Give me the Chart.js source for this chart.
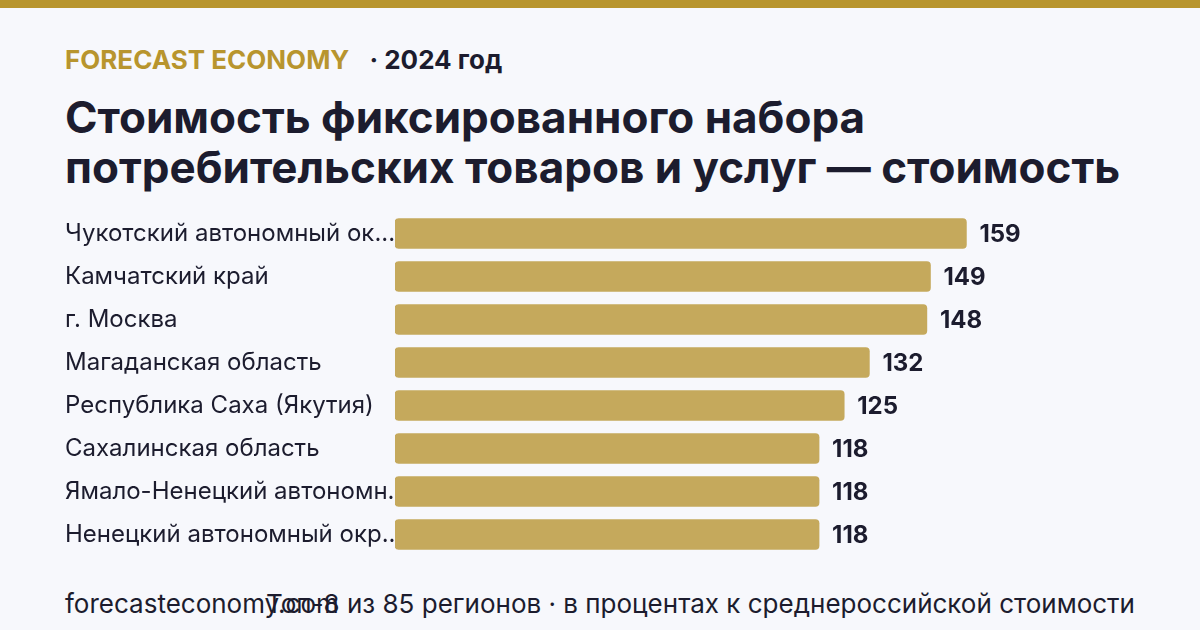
<!DOCTYPE html>
<html lang="ru">
<head>
<meta charset="utf-8">
<script src="https://cdn.jsdelivr.net/npm/chart.js@4"></script>
<style>
  html, body { margin: 0; padding: 0; }
  body {
    width: 1200px; height: 630px; overflow: hidden; position: relative;
    background: #f7f8fc; font-family: Inter, "Noto Sans", sans-serif; color: #1c1c2e;
  }
  .topbar { position: absolute; left: 0; top: 0; width: 1200px; height: 8px; background: #b8952e; }
  .brand { position: absolute; left: 65px; top: 44px; font-size: 26px; font-weight: 700; white-space: nowrap; }
  .brand .name { color: #b8952e; }
  .brand .year { color: #1c1c2e; margin-left: 20px; }
  h1 {
    position: absolute; left: 65px; top: 92px; margin: 0;
    font-size: 44px; line-height: 50px; font-weight: 700; color: #1c1c2e; white-space: nowrap;
  }
  .wrap { position: absolute; left: 0; top: 212px; width: 1200px; height: 344px; }
  .foot-left { position: absolute; left: 65px; top: 588px; font-size: 26px; white-space: nowrap; }
  .foot-right { position: absolute; right: 65px; top: 588px; font-size: 26px; white-space: nowrap; }
</style>
</head>
<body>
<div class="topbar"></div>
<div class="brand"><span class="name">FORECAST ECONOMY</span><span class="year">· 2024 год</span></div>
<h1>Стоимость фиксированного набора<br>потребительских товаров и услуг — стоимость</h1>
<div class="wrap"><canvas id="chart"></canvas></div>
<div class="foot-left">forecasteconomy.com</div>
<div class="foot-right">Топ-8 из 85 регионов · в процентах к среднероссийской стоимости</div>

<script>
const regions = [
  'Чукотский автономный ок...',
  'Камчатский край',
  'г. Москва',
  'Магаданская область',
  'Республика Саха (Якутия)',
  'Сахалинская область',
  'Ямало-Ненецкий автономн...',
  'Ненецкий автономный окр...'
];
const costIndex = [159, 149, 148, 132, 125, 118, 118, 118];

// value labels to the right of each bar
const valueLabels = {
  id: 'valueLabels',
  afterDatasetsDraw(chart) {
    const ctx = chart.ctx;
    const meta = chart.getDatasetMeta(0);
    ctx.save();
    ctx.font = '700 24px Inter, sans-serif';
    ctx.fillStyle = '#1c1c2e';
    ctx.textAlign = 'left';
    ctx.textBaseline = 'middle';
    meta.data.forEach((bar, i) => {
      ctx.fillText(String(costIndex[i]), bar.x + 13, bar.y + 1);
    });
    ctx.restore();
  }
};

window.addEventListener('DOMContentLoaded', () => {
  const ctx = document.getElementById('chart').getContext('2d');
  new Chart(ctx, {
    type: 'bar',
    data: {
      labels: regions,
      datasets: [{
        data: costIndex,
        backgroundColor: '#c5a95c',
        borderRadius: 4,
        borderSkipped: false,
        barThickness: 30
      }]
    },
    options: {
      indexAxis: 'y',
      responsive: true,
      maintainAspectRatio: false,
      animation: false,
      layout: { padding: { left: 65, right: 0, top: 0, bottom: 0 } },
      plugins: { legend: { display: false }, tooltip: { enabled: false } },
      scales: {
        x: { display: false, min: 0, max: 224 },
        y: {
          grid: { display: false },
          border: { display: false },
          afterFit(scale) {
            scale.width = 330;
            scale.paddingTop = 0;
            scale.paddingBottom = 0;
          },
          ticks: {
            crossAlign: 'far',
            padding: 0,
            color: '#1c1c2e',
            font: { family: 'Inter, sans-serif', size: 24 }
          }
        }
      }
    },
    plugins: [valueLabels]
  });
});
</script>
</body>
</html>
